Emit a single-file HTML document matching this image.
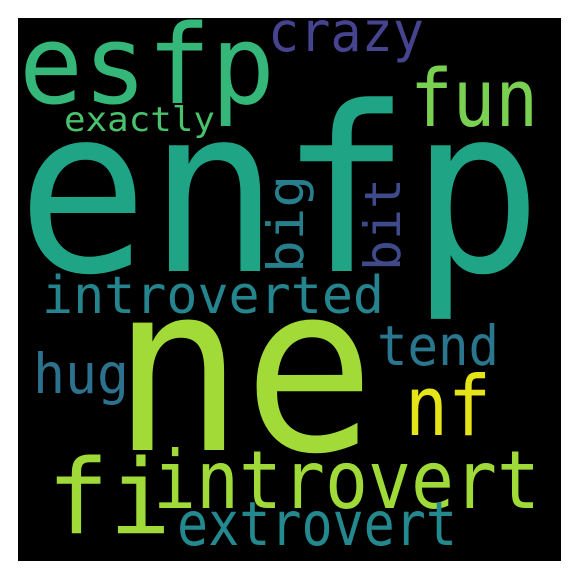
<!DOCTYPE html>
<html><head><meta charset="utf-8"><style>
html,body{margin:0;padding:0;background:#fff;}
svg{display:block;}
text{font-family:"DejaVu Sans Mono","Liberation Mono",monospace;}
</style></head><body>
<svg width="579" height="579" viewBox="0 0 579 579">
<rect x="18" y="18" width="543" height="543" fill="#000"/>
<text x="17" y="271" font-size="230" fill="#20a486" textLength="525" lengthAdjust="spacingAndGlyphs">enfp</text>
<text x="112" y="450" font-size="233" fill="#a2da37" textLength="263" lengthAdjust="spacingAndGlyphs">ne</text>
<text x="19" y="103" font-size="110" fill="#35b779" textLength="256" lengthAdjust="spacingAndGlyphs">esfp</text>
<text x="268" y="51" font-size="55" fill="#47448f" textLength="156" lengthAdjust="spacingAndGlyphs">crazy</text>
<text x="410" y="126" font-size="79" fill="#7ad151" textLength="128" lengthAdjust="spacingAndGlyphs">fun</text>
<text x="64" y="131" font-size="34" fill="#4ac16d" textLength="151" lengthAdjust="spacingAndGlyphs">exactly</text>
<text transform="translate(303,273) rotate(-90)" x="0" y="0" font-size="50" fill="#277f8e" textLength="98" lengthAdjust="spacingAndGlyphs">big</text>
<text transform="translate(400,271) rotate(-90)" x="0" y="0" font-size="50" fill="#3f4a8a" textLength="93" lengthAdjust="spacingAndGlyphs">bit</text>
<text x="42" y="313" font-size="52" fill="#25858e" textLength="342" lengthAdjust="spacingAndGlyphs">introverted</text>
<text x="377" y="365" font-size="55" fill="#2a768e" textLength="122" lengthAdjust="spacingAndGlyphs">tend</text>
<text x="33" y="393" font-size="55" fill="#2c728e" textLength="96" lengthAdjust="spacingAndGlyphs">hug</text>
<text x="405" y="435" font-size="83" fill="#e5e419" textLength="86" lengthAdjust="spacingAndGlyphs">nf</text>
<text x="47" y="533" font-size="103" fill="#a0da39" textLength="124" lengthAdjust="spacingAndGlyphs">fi</text>
<text x="153" y="508" font-size="80" fill="#a0da39" textLength="387" lengthAdjust="spacingAndGlyphs">introvert</text>
<text x="177" y="545" font-size="61" fill="#23898e" textLength="280" lengthAdjust="spacingAndGlyphs">extrovert</text>
</svg>
</body></html>
